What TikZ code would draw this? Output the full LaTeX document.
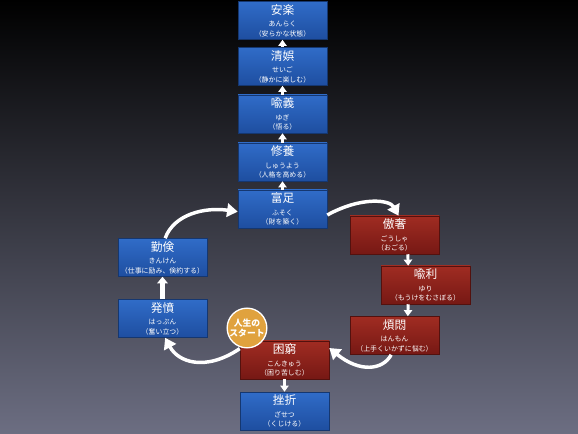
\documentclass[tikz,border=0pt]{standalone}
\usepackage{fontspec}
\newfontfamily\jp{Noto Sans CJK JP}
\usetikzlibrary{arrows.meta}

\definecolor{bgmid}{RGB}{34,36,66}
\definecolor{bgbot}{RGB}{108,110,130}
\definecolor{bluetop}{RGB}{48,108,200}
\definecolor{bluebot}{RGB}{30,78,160}
\definecolor{redtop}{RGB}{160,44,34}
\definecolor{redbot}{RGB}{118,24,20}
\definecolor{startorange}{RGB}{224,162,62}

\newcommand{\stage}[3]{{\fontsize{8.8}{9}\selectfont #1}\\[3.6pt]#2\\[0.9pt]#3}

\begin{document}
\begin{tikzpicture}[x=0.75pt,y=0.75pt,yscale=-1,xscale=1,
  stagebox/.style={rectangle, minimum width=66.75pt, minimum height=28.5pt, inner sep=0pt,
    align=center, text=white, font=\jp\fontsize{5.2}{6}\selectfont},
  bluebox/.style={stagebox, top color=bluetop, bottom color=bluebot, draw=bluebot!70!black, line width=0.4pt},
  redbox/.style={stagebox, top color=redtop, bottom color=redbot, draw=redbot!70!black, line width=0.4pt},
  stepline/.style={white, line width=2.2pt, -{Triangle[length=4.6pt,width=6.2pt]}},
  loopline/.style={white, line width=2.6pt, -{Triangle[length=8pt,width=10pt]}}]
\useasboundingbox (0,0) rectangle (578,434);

% Background
\shade [top color=black, middle color=bgmid, bottom color=bgbot] (0,0) rectangle (578,434);

% Upper stack
\node [bluebox] (anraku) at (282.5,20.5) {\stage{安楽}{あんらく}{（安らかな状態）}};
\node [bluebox] (seigo) at (282.5,66.5) {\stage{清娯}{せいご}{（静かに楽しむ）}};
\node [bluebox] (yugi) at (282.5,114) {\stage{喩義}{ゆぎ}{（悟る）}};
\node [bluebox] (shuyo) at (282.5,162) {\stage{修養}{しゅうよう}{（人格を高める）}};
\node [bluebox] (fusoku) at (282.5,209) {\stage{富足}{ふそく}{（財を築く）}};

% Right side
\node [redbox] (gosha) at (394.5,235) {\stage{傲奢}{ごうしゃ}{（おごる）}};
\node [redbox] (yuri) at (425.5,285) {\stage{喩利}{ゆり}{（もうけをむさぼる）}};
\node [redbox] (hanmon) at (394.5,335.5) {\stage{煩悶}{はんもん}{（上手くいかずに悩む）}};

% Bottom
\node [redbox] (konkyu) at (284.5,360) {\stage{困窮}{こんきゅう}{（困り苦しむ）}};
\node [bluebox] (zasetsu) at (284.5,411) {\stage{挫折}{ざせつ}{（くじける）}};

% Left side
\node [bluebox] (happun) at (162.5,318.5) {\stage{発憤}{はっぷん}{（奮い立つ）}};
\node [bluebox] (kinken) at (162.5,257.5) {\stage{勤倹}{きんけん}{（仕事に励み、倹約する）}};

% Start mark
\node [circle, minimum size=28pt, inner sep=0pt, fill=startorange, draw=white, line width=1pt,
  align=center, text=white, font=\jp\bfseries\fontsize{6.6}{7.8}\selectfont] (start) at (247,328) {人生の\\スタート};

% Straight arrows
\draw [stepline] (seigo) -- (anraku);
\draw [stepline] (yugi) -- (seigo);
\draw [stepline] (shuyo) -- (yugi);
\draw [stepline] (fusoku) -- (shuyo);
\draw [stepline] ([xshift=10pt]gosha.south) -- ([xshift=-13pt]yuri.north);
\draw [stepline] ([xshift=-13pt]yuri.south) -- ([xshift=10pt]hanmon.north);
\draw [stepline] (konkyu) -- (zasetsu);
\draw [white, line width=3.6pt, -{Triangle[length=5pt,width=8pt]}] (happun) -- (kinken);

% Curve arrows
\draw [loopline] ([xshift=2pt]kinken.north) .. controls (174,214) and (205,207) .. ([yshift=2pt]fusoku.west);
\draw [loopline] ([yshift=4.5pt]fusoku.east) .. controls (362,196) and (390,200) .. ([xshift=3pt]gosha.north);
\draw [loopline] ([xshift=-2.5pt]hanmon.south) .. controls (383,370) and (360,373) .. ([yshift=-9pt]konkyu.east);
\draw [loopline] ([yshift=-8.5pt]konkyu.west) .. controls (205,372) and (178,362) .. ([xshift=2pt]happun.south);
\end{tikzpicture}
\end{document}
